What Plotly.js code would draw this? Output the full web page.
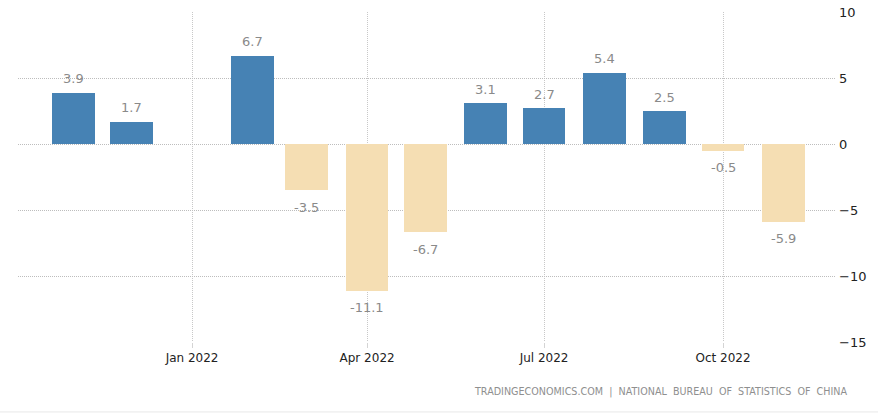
<!DOCTYPE html>
<html>
<head>
<meta charset="utf-8">
<script src="https://cdn.plot.ly/plotly-3.0.1.min.js"></script>
<style>html,body{margin:0;padding:0;background:#fff;}#chart{width:878px;height:415px;}</style>
</head>
<body>
<div id="chart"></div>
<script>
const months = ["2021-11-01","2021-12-01","2022-01-01","2022-02-01","2022-03-01","2022-04-01","2022-05-01","2022-06-01","2022-07-01","2022-08-01","2022-09-01","2022-10-01","2022-11-01"];
const values = [3.9, 1.7, null, 6.7, -3.5, -11.1, -6.7, 3.1, 2.7, 5.4, 2.5, -0.5, -5.9];
const tickDates = ["2022-01-01","2022-04-01","2022-07-01","2022-10-01"];
const tickLabels = ["Jan 2022","Apr 2022","Jul 2022","Oct 2022"];
const yTicks = [10, 5, 0, -5, -10, -15];
const source = "TRADINGECONOMICS.COM  |  NATIONAL  BUREAU  OF  STATISTICS  OF  CHINA";

const POS = "#4682b4", NEG = "#f5deb3";
const DAY = 86400000;

const trace = {
  type: "bar",
  x: months,
  y: values,
  width: months.map(() => 22 * DAY),
  marker: {color: values.map(v => v === null ? POS : (v >= 0 ? POS : NEG))},
  hoverinfo: "x+y"
};

const annotations = [];
months.forEach((m, i) => {
  const v = values[i];
  if (v === null) return;
  annotations.push({
    x: m, y: v, xref: "x", yref: "y",
    text: v.toFixed(1), showarrow: false,
    yshift: v >= 0 ? 14 : -17,
    font: {family: "DejaVu Sans", size: 13, color: "#8a8a8a"}
  });
});
annotations.push({
  xref: "paper", yref: "paper", x: 1.018, y: -0.152, xanchor: "right", yanchor: "middle",
  text: source, showarrow: false,
  font: {family: "DejaVu Sans", size: 9.6, color: "#8f8f8f"}
});

const layout = {
  width: 878, height: 415,
  margin: {l: 18, r: 43, t: 12, b: 73},
  paper_bgcolor: "#fff", plot_bgcolor: "#fff",
  showlegend: false,
  bargap: 0,
  xaxis: {
    type: "date",
    range: ["2021-10-03 12:00", "2022-11-27 14:00"],
    tickmode: "array", tickvals: tickDates, ticktext: tickLabels,
    showgrid: true, gridcolor: "#c8c8c8", griddash: "1px,1px", gridwidth: 1,
    zeroline: false, showline: false,
    ticks: "outside", ticklen: 5, tickcolor: "#d4d4d4",
    tickfont: {family: "DejaVu Sans", size: 12, color: "#222"}
  },
  yaxis: {
    side: "right",
    range: [-15, 10],
    tickmode: "array", tickvals: yTicks,
    showgrid: true, gridcolor: "#bdbdbd", griddash: "1px,1px", gridwidth: 1,
    zeroline: false, showline: false, ticks: "",
    ticklabelstandoff: 3,
    tickfont: {family: "DejaVu Sans", size: 13, color: "#222"}
  },
  annotations: annotations,
  shapes: [{
    type: "line", xref: "paper", yref: "paper",
    x0: -0.03, x1: 1.06, y0: -0.212, y1: -0.212,
    line: {color: "#e8e8e8", width: 1}
  }]
};

Plotly.newPlot("chart", [trace], layout, {displayModeBar: false, staticPlot: true});
</script>
</body>
</html>
